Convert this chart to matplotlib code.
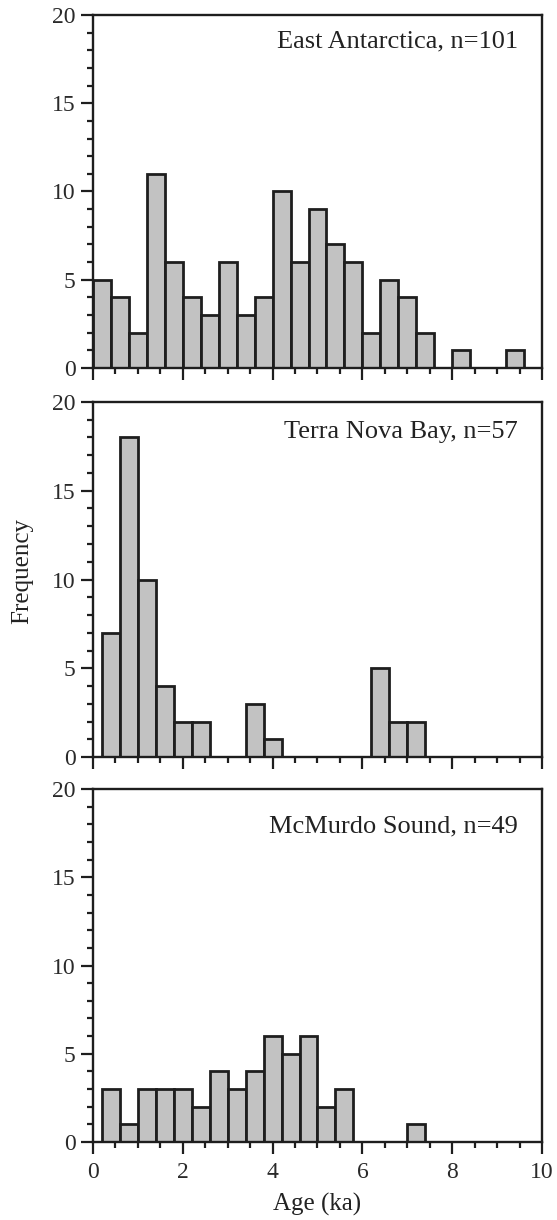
import matplotlib
matplotlib.use('Agg')
import matplotlib.pyplot as plt
from matplotlib.ticker import MultipleLocator

plt.rcParams['font.family'] = ['Liberation Serif', 'DejaVu Serif']

# Histogram data (bin left edge in ka, counts), bin width 0.4 ka
bin_width = 0.4

east_starts = [0.0, 0.4, 0.8, 1.2, 1.6, 2.0, 2.4, 2.8, 3.2, 3.6, 4.0,
               4.4, 4.8, 5.2, 5.6, 6.0, 6.4, 6.8, 7.2, 8.0, 9.2]
east_counts = [5, 4, 2, 11, 6, 4, 3, 6, 3, 4, 10, 6, 9, 7, 6, 2, 5, 4, 2, 1, 1]

terra_starts = [0.2, 0.6, 1.0, 1.4, 1.8, 2.2, 3.4, 3.8, 6.2, 6.6, 7.0]
terra_counts = [7, 18, 10, 4, 2, 2, 3, 1, 5, 2, 2]

mcmurdo_starts = [0.2, 0.6, 1.0, 1.4, 1.8, 2.2, 2.6, 3.0, 3.4, 3.8, 4.2,
                  4.6, 5.0, 5.4, 7.0]
mcmurdo_counts = [3, 1, 3, 3, 3, 2, 4, 3, 4, 6, 5, 6, 2, 3, 1]

labels = ['East Antarctica, n=101', 'Terra Nova Bay, n=57', 'McMurdo Sound, n=49']
x_ticks = [0, 2, 4, 6, 8, 10]
y_ticks = [0, 5, 10, 15, 20]

# -------------------------------------------------------------------
# Figure: three stacked panels, placed by hand to match the page
# -------------------------------------------------------------------
fig = plt.figure(figsize=(5.57, 12.2), dpi=100)

left, width = 0.167, 0.806
panel_pos = [(0.6984, 0.2893), (0.3795, 0.2910), (0.0639, 0.2894)]
text_y = [0.925, 0.915, 0.893]
data = [(east_starts, east_counts), (terra_starts, terra_counts),
        (mcmurdo_starts, mcmurdo_counts)]

ink = '#1e1e1e'
for i, ((starts, counts), (bottom, height)) in enumerate(zip(data, panel_pos)):
    ax = fig.add_axes([left, bottom, width, height])
    ax.bar(starts, counts, width=bin_width, align='edge', color='#c2c2c2',
           edgecolor=ink, linewidth=2.0, zorder=2)

    ax.set_xlim(0, 10)
    ax.set_ylim(0, 20)
    ax.set_xticks(x_ticks)
    ax.set_yticks(y_ticks)
    ax.xaxis.set_minor_locator(MultipleLocator(0.5))
    ax.yaxis.set_minor_locator(MultipleLocator(1))
    ax.tick_params(which='major', direction='out', length=8.5, width=1.6,
                   color=ink, labelsize=17, labelcolor='#2a2a2a', pad=4)
    ax.tick_params(which='minor', direction='out', length=4.3, width=1.6, color=ink)
    ax.tick_params(axis='x', which='major', pad=6)
    if i < 2:
        ax.tick_params(axis='x', labelbottom=False)

    for side in ax.spines.values():
        side.set_linewidth(1.7)
        side.set_color(ink)

    ax.text(0.947, text_y[i], labels[i], transform=ax.transAxes,
            ha='right', va='center', fontsize=19, color='#222222')

fig.text(0.04, 0.532, 'Frequency', rotation=90, ha='center', va='center',
         fontsize=18, color='#222222')
fig.text(0.57, 0.0125, 'Age (ka)', ha='center', va='center',
         fontsize=18, color='#222222')

plt.savefig('out.png', dpi=100)
plt.close()
